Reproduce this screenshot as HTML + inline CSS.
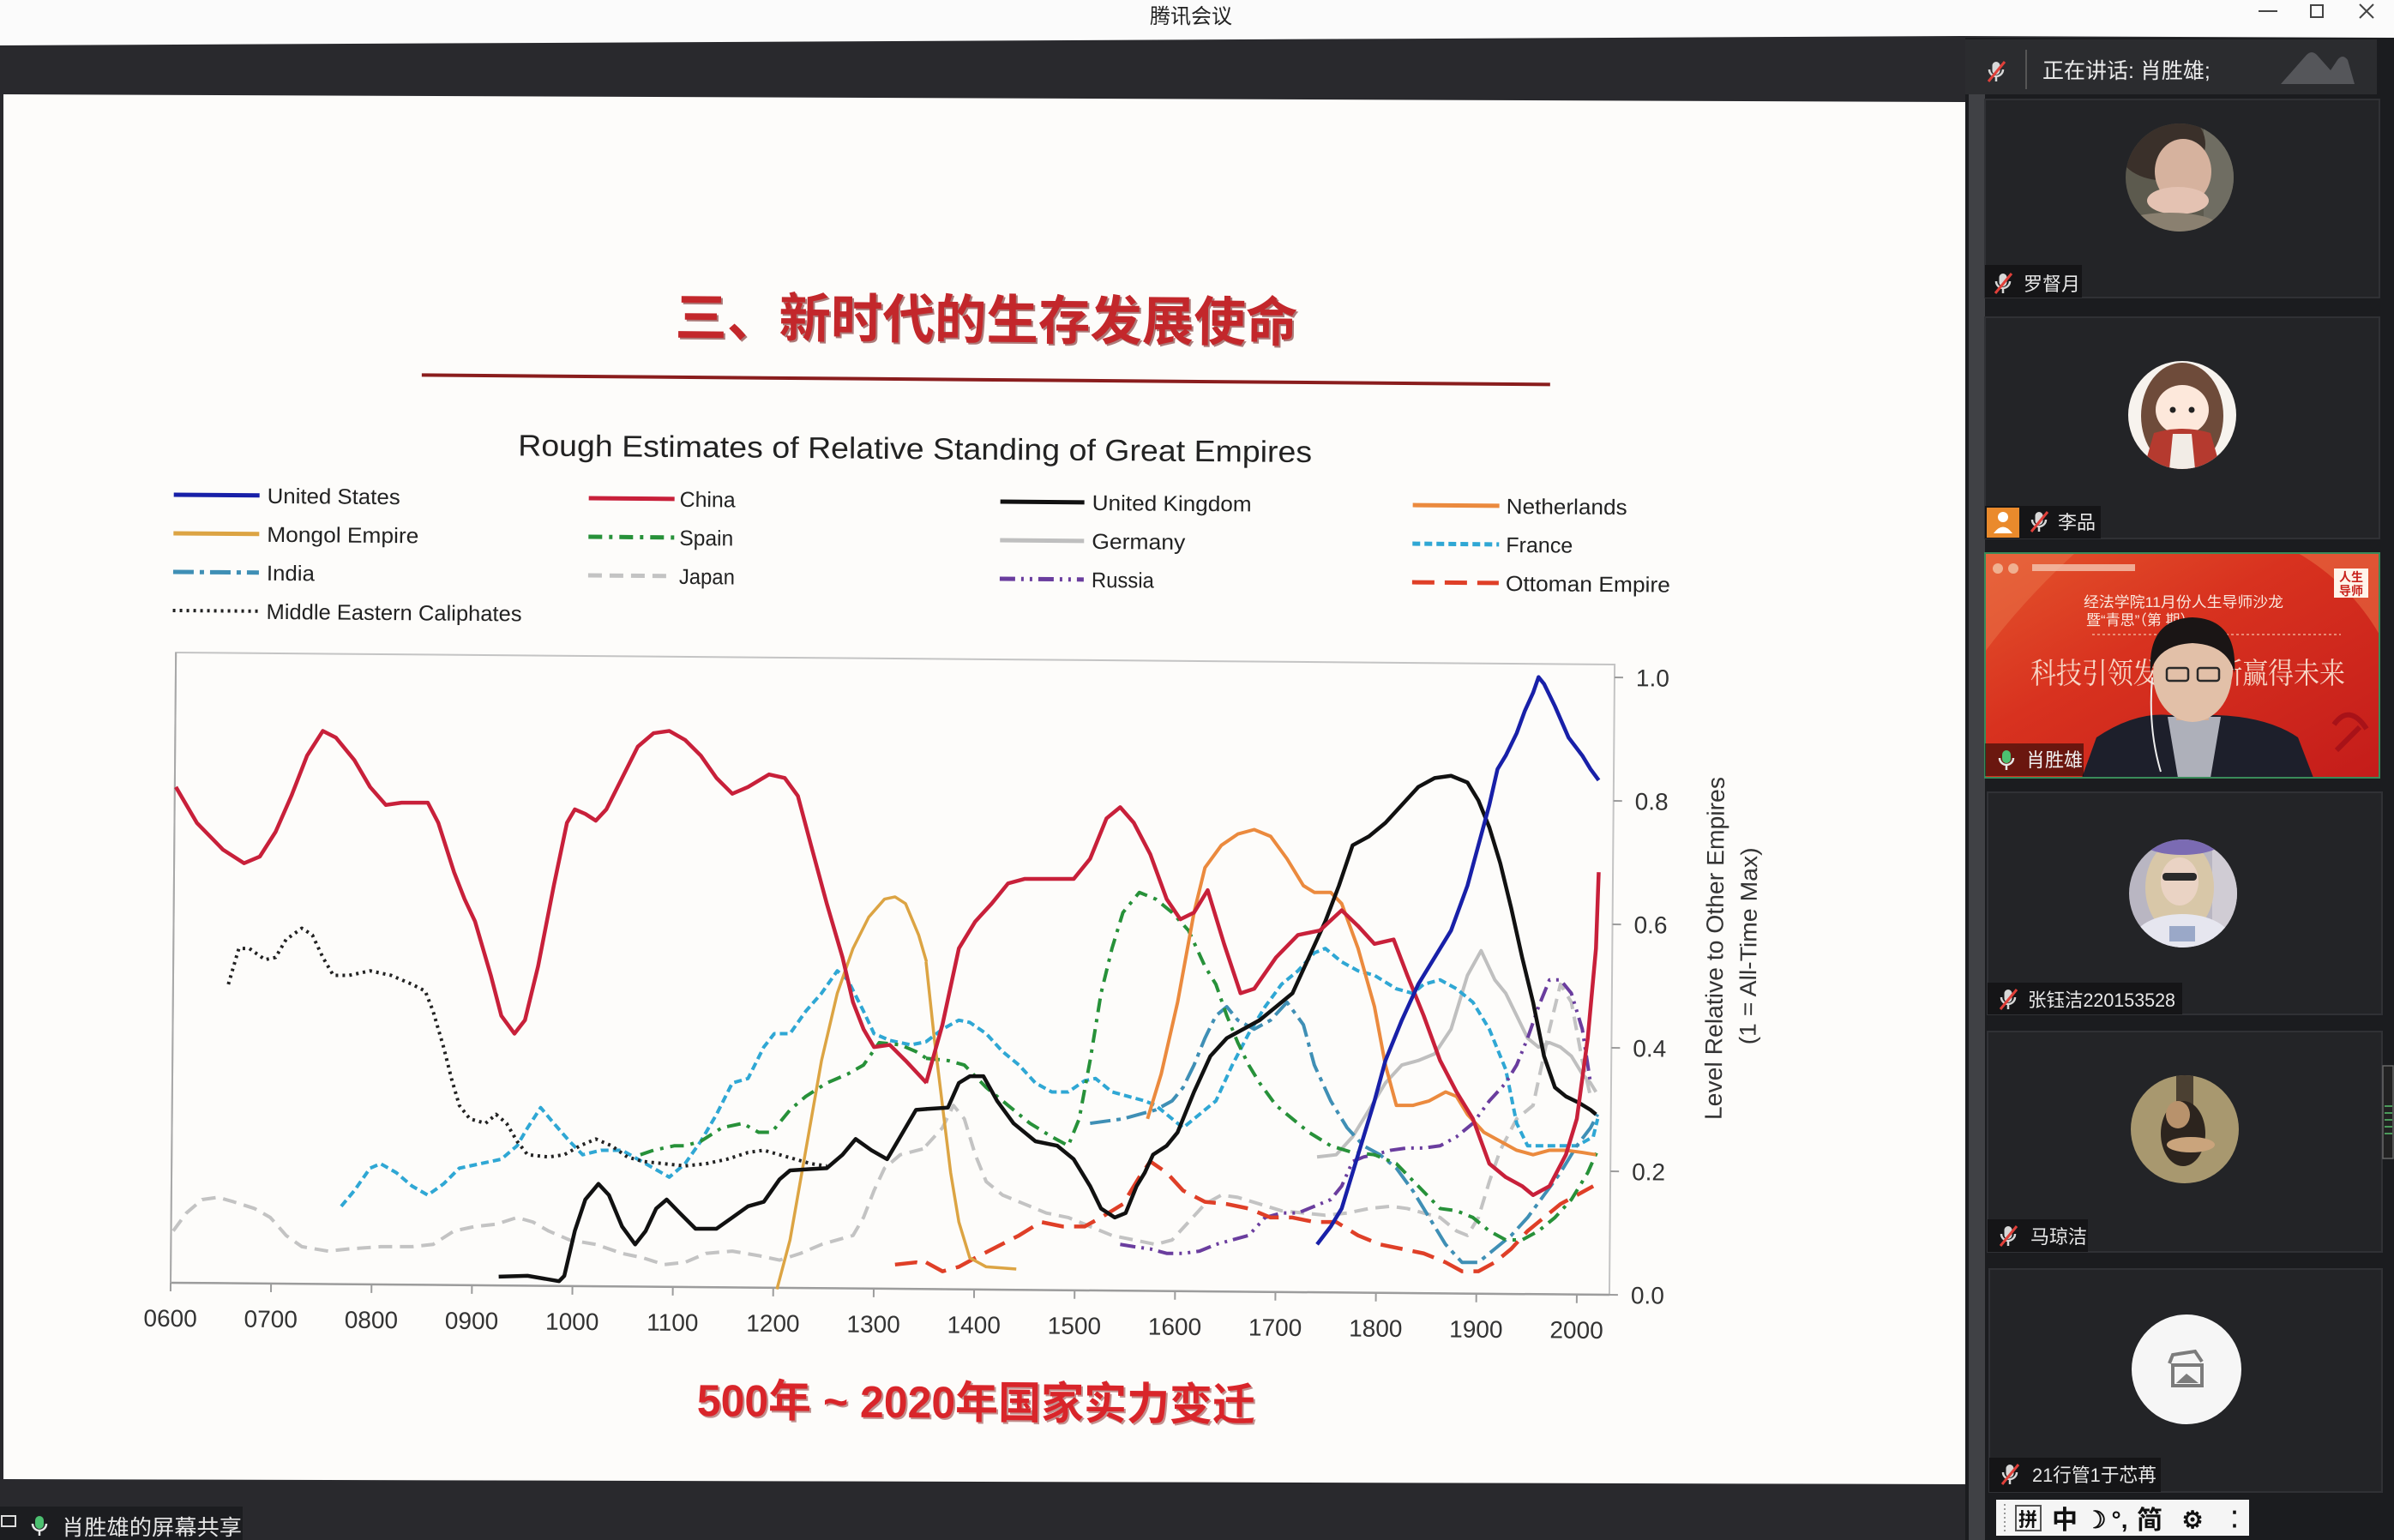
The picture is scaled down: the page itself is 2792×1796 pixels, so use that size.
<!DOCTYPE html>
<html>
<head>
<meta charset="utf-8">
<style>
html,body{margin:0;padding:0;background:#29292d;width:2792px;height:1796px;overflow:hidden}
svg{display:block}
</style>
</head>
<body>
<svg xmlns="http://www.w3.org/2000/svg" width="2792" height="1796" viewBox="0 0 2792 1796" font-family="'Liberation Sans','Noto Sans CJK SC',sans-serif">
<defs>
  <g id="micx">
    <rect x="-4.5" y="-12" width="9" height="15" rx="4.5" fill="#d8d8d8"/>
    <path d="M-8,-3 a8,8 0 0 0 16,0" fill="none" stroke="#d8d8d8" stroke-width="2.5"/>
    <line x1="0" y1="5" x2="0" y2="11" stroke="#d8d8d8" stroke-width="2.5"/>
    <line x1="-9" y1="11" x2="10" y2="-12" stroke="#e0403a" stroke-width="3"/>
  </g>
  <g id="micg">
    <rect x="-5" y="-12" width="10" height="15" rx="5" fill="#4cc070"/>
    <path d="M-8,-3 a8,8 0 0 0 16,0" fill="none" stroke="#e8e8e8" stroke-width="2.5"/>
    <line x1="0" y1="5" x2="0" y2="11" stroke="#e8e8e8" stroke-width="2.5"/>
  </g>
  <clipPath id="c1"><circle cx="2542" cy="207" r="63"/></clipPath>
  <clipPath id="c2"><circle cx="2545" cy="484" r="63"/></clipPath>
  <clipPath id="c4"><circle cx="2546" cy="1042" r="63"/></clipPath>
  <clipPath id="c5"><circle cx="2548" cy="1317" r="63"/></clipPath>
  <clipPath id="ct3"><rect x="2315" y="645" width="460" height="262"/></clipPath>
  <linearGradient id="redg" x1="0" y1="0" x2="1" y2="1">
    <stop offset="0" stop-color="#e4542c"/>
    <stop offset="0.4" stop-color="#d8321f"/>
    <stop offset="1" stop-color="#c41c1a"/>
  </linearGradient>
</defs>

<!-- background -->
<rect x="0" y="0" width="2792" height="1796" fill="#29292d"/>
<!-- title bar -->
<polygon points="0,0 2792,0 2792,44 2290,42 0,53" fill="#fbfbfb"/>
<text x="1389" y="27" font-size="24" fill="#222" text-anchor="middle">腾讯会议</text>
<line x1="2634" y1="13" x2="2656" y2="13" stroke="#444" stroke-width="2"/>
<rect x="2695" y="6" width="14" height="14" fill="none" stroke="#444" stroke-width="2"/>
<path d="M2752,5 L2768,21 M2768,5 L2752,21" stroke="#444" stroke-width="2"/>

<!-- right panel -->
<rect x="2292" y="44" width="500" height="1752" fill="#1b1c1f"/>
<rect x="2296" y="110" width="19" height="1686" fill="#404145"/>
<!-- header -->
<rect x="2292" y="46" width="480" height="64" fill="#2b2c2f"/>
<use href="#micx" x="2328" y="84"/>
<line x1="2363" y1="58" x2="2363" y2="104" stroke="#555" stroke-width="2"/>
<text x="2382" y="91" font-size="25" fill="#ececec">正在讲话: 肖胜雄;</text>
<path d="M2660,98 L2690,64 Q2696,58 2702,64 L2718,82 L2726,70 Q2732,62 2738,70 L2746,98 Z" fill="#55565a"/>

<!-- tile 1 -->
<rect x="2315" y="116" width="460" height="231" fill="#232427" stroke="#303135" stroke-width="2"/>
<g clip-path="url(#c1)">
  <rect x="2479" y="144" width="126" height="126" fill="#5c5a4e"/>
  <rect x="2570" y="144" width="40" height="126" fill="#6f6d62"/>
  <ellipse cx="2520" cy="168" rx="52" ry="42" fill="#3a302a"/>
  <ellipse cx="2546" cy="200" rx="33" ry="38" fill="#d6b29e"/>
  <ellipse cx="2540" cy="234" rx="36" ry="16" fill="#e4c2b2"/>
  <ellipse cx="2530" cy="262" rx="55" ry="14" fill="#8a8070"/>
</g>
<rect x="2315" y="309" width="113" height="38" fill="#151517"/>
<use href="#micx" x="2336" y="331"/>
<text x="2360" y="339" font-size="22" fill="#e8e8e8">罗督月</text>

<!-- tile 2 -->
<rect x="2315" y="370" width="460" height="258" fill="#232427" stroke="#303135" stroke-width="2"/>
<g clip-path="url(#c2)">
  <rect x="2482" y="421" width="126" height="126" fill="#f7f3ee"/>
  <ellipse cx="2545" cy="485" rx="48" ry="62" fill="#6e4b3a"/>
  <ellipse cx="2545" cy="478" rx="31" ry="29" fill="#fde8db"/>
  <circle cx="2534" cy="478" r="3.5" fill="#222"/>
  <circle cx="2556" cy="478" r="3.5" fill="#222"/>
  <path d="M2500,547 L2512,505 Q2545,495 2578,505 L2590,547 Z" fill="#b53a2f"/>
  <path d="M2530,547 L2534,506 L2556,506 L2560,547 Z" fill="#f2ece6"/>
</g>
<rect x="2315" y="590" width="135" height="38" fill="#151517"/>
<rect x="2317" y="592" width="38" height="35" fill="#ea8a2c"/>
<circle cx="2336" cy="603" r="6" fill="#fff"/>
<path d="M2325,622 Q2336,607 2347,622 Z" fill="#fff"/>
<use href="#micx" x="2378" y="609"/>
<text x="2400" y="617" font-size="22" fill="#e8e8e8">李品</text>

<!-- tile 3 video -->
<g clip-path="url(#ct3)">
  <rect x="2315" y="645" width="460" height="262" fill="url(#redg)"/>
  <path d="M2315,645 L2420,645 Q2360,700 2315,760 Z" fill="#e9744a" opacity="0.5"/>
  <path d="M2680,645 L2775,645 L2775,740 Q2740,680 2680,645 Z" fill="#ec7a4a" opacity="0.5"/>
  <circle cx="2330" cy="663" r="6" fill="#f0b090"/>
  <circle cx="2348" cy="663" r="6" fill="#f0b090"/>
  <rect x="2370" y="658" width="120" height="8" fill="#f4c4b0" opacity="0.8"/>
  <rect x="2722" y="663" width="40" height="34" fill="#fff4ea"/>
  <text x="2742" y="678" font-size="14" fill="#c8201a" text-anchor="middle" font-weight="bold">人生</text>
  <text x="2742" y="694" font-size="14" fill="#c8201a" text-anchor="middle" font-weight="bold">导师</text>
  <text x="2430" y="708" font-size="17" fill="#fbe8de" textLength="233" lengthAdjust="spacingAndGlyphs">经法学院11月份人生导师沙龙</text>
  <text x="2433" y="729" font-size="17" fill="#fbe8de">暨“青思”（第   期）</text>
  <line x1="2440" y1="740" x2="2730" y2="740" stroke="#f0a890" stroke-width="1.5" stroke-dasharray="3 3"/>
  <text x="2368" y="797" font-size="34" fill="#f7d6c6" font-family="'Noto Serif CJK SC',serif" textLength="367" lengthAdjust="spacingAndGlyphs">科技引领发展 创新赢得未来</text>
  <path d="M2722,845 Q2740,820 2760,850 M2725,875 L2752,848" stroke="#a81218" stroke-width="6" fill="none"/>
  <!-- man -->
  <path d="M2428,907 L2445,860 Q2490,830 2530,834 L2585,834 Q2645,836 2680,860 L2698,907 Z" fill="#1d1f2b"/>
  <path d="M2528,836 L2590,836 L2578,907 L2540,907 Z" fill="#aeb0ba"/>
  <rect x="2538" y="818" width="38" height="22" fill="#d4ae96"/>
  <ellipse cx="2557" cy="786" rx="46" ry="56" fill="#e2c0a8"/>
  <path d="M2508,785 Q2504,722 2557,720 Q2610,722 2606,785 Q2598,752 2557,750 Q2516,752 2508,785 Z" fill="#1a1515"/>
  <rect x="2527" y="779" width="25" height="15" rx="3" fill="none" stroke="#2a2a2a" stroke-width="2.5"/>
  <rect x="2563" y="779" width="25" height="15" rx="3" fill="none" stroke="#2a2a2a" stroke-width="2.5"/>
  <path d="M2510,790 Q2505,850 2520,900" stroke="#eee" stroke-width="2" fill="none"/>
</g>
<rect x="2315" y="645" width="460" height="262" fill="none" stroke="#3a8a5a" stroke-width="2"/>
<rect x="2315" y="867" width="115" height="38" fill="#000" opacity="0.5"/>
<use href="#micg" x="2340" y="887"/>
<text x="2363" y="894" font-size="22" fill="#f0f0f0">肖胜雄</text>

<!-- tile 4 -->
<rect x="2318" y="924" width="460" height="259" fill="#232427" stroke="#303135" stroke-width="2"/>
<g clip-path="url(#c4)">
  <rect x="2483" y="979" width="126" height="126" fill="#b9b6c2"/>
  <rect x="2580" y="979" width="30" height="126" fill="#d0ccd4"/>
  <ellipse cx="2542" cy="1035" rx="40" ry="55" fill="#d8c7a8"/>
  <ellipse cx="2542" cy="1028" rx="22" ry="28" fill="#ead3c4"/>
  <rect x="2522" y="1018" width="40" height="9" rx="4" fill="#2a2a2a"/>
  <ellipse cx="2545" cy="983" rx="45" ry="14" fill="#7b6bb3"/>
  <ellipse cx="2545" cy="1098" rx="58" ry="32" fill="#e6e6ef"/>
  <rect x="2530" y="1080" width="30" height="18" fill="#9aa8c8"/>
</g>
<rect x="2318" y="1146" width="227" height="37" fill="#151517"/>
<use href="#micx" x="2342" y="1166"/>
<text x="2365" y="1174" font-size="22" fill="#e8e8e8" textLength="172" lengthAdjust="spacingAndGlyphs">张钰洁220153528</text>

<!-- tile 5 -->
<rect x="2318" y="1203" width="460" height="257" fill="#232427" stroke="#303135" stroke-width="2"/>
<g clip-path="url(#c5)">
  <rect x="2485" y="1254" width="126" height="126" fill="#a8986f"/>
  <rect x="2538" y="1254" width="20" height="40" fill="#4b4032"/>
  <ellipse cx="2546" cy="1322" rx="26" ry="38" fill="#2c241e"/>
  <ellipse cx="2540" cy="1300" rx="14" ry="16" fill="#b8926c"/>
  <ellipse cx="2555" cy="1335" rx="28" ry="9" fill="#caa47c"/>
</g>
<rect x="2318" y="1422" width="117" height="38" fill="#151517"/>
<use href="#micx" x="2342" y="1442"/>
<text x="2368" y="1450" font-size="22" fill="#e8e8e8">马琼洁</text>

<!-- tile 6 -->
<rect x="2320" y="1480" width="458" height="260" fill="#232427" stroke="#303135" stroke-width="2"/>
<circle cx="2550" cy="1597" r="64" fill="#f6f6f6"/>
<rect x="2534" y="1592" width="34" height="24" fill="none" stroke="#7c7c7c" stroke-width="4"/>
<path d="M2538,1613 L2550,1602 L2564,1613 Z" fill="#7c7c7c"/>
<path d="M2530,1590 L2534,1580 L2560,1576 L2568,1588" fill="none" stroke="#7c7c7c" stroke-width="4"/>
<rect x="2320" y="1700" width="200" height="40" fill="#151517"/>
<use href="#micx" x="2344" y="1720"/>
<text x="2370" y="1728" font-size="22" fill="#e8e8e8" textLength="145" lengthAdjust="spacingAndGlyphs">21行管1于芯苒</text>

<!-- side handle -->
<rect x="2779" y="1243" width="12" height="108" fill="#222" stroke="#666" stroke-width="1.5"/>
<path d="M2781,1290 H2790 M2781,1298 H2790 M2781,1306 H2790 M2781,1314 H2790 M2781,1322 H2790" stroke="#4a9a5a" stroke-width="2"/>

<!-- IME bar -->
<rect x="2328" y="1749" width="295" height="42" fill="#f5f5f5"/>
<line x1="2338" y1="1754" x2="2338" y2="1786" stroke="#999" stroke-width="2" stroke-dasharray="2 3"/>
<rect x="2351" y="1756" width="29" height="29" fill="none" stroke="#555" stroke-width="2"/>
<text x="2365" y="1780" font-size="22" font-weight="bold" fill="#111" text-anchor="middle">拼</text>
<text x="2408" y="1783" font-size="30" font-weight="bold" fill="#111" text-anchor="middle">中</text>
<text x="2444" y="1782" font-size="28" font-weight="bold" fill="#111" text-anchor="middle">☽</text>
<text x="2472" y="1782" font-size="28" font-weight="bold" fill="#111" text-anchor="middle">°,</text>
<text x="2507" y="1783" font-size="30" font-weight="bold" fill="#111" text-anchor="middle">简</text>
<text x="2557" y="1782" font-size="28" font-weight="bold" fill="#111" text-anchor="middle">⚙</text>
<text x="2606" y="1781" font-size="26" font-weight="bold" fill="#111" text-anchor="middle">⁚</text>

<!-- slide -->
<polygon points="4,110 2292,119 2292,1731 4,1725" fill="#fdfcfa"/>

<!-- bottom-left share label -->
<rect x="0" y="1757" width="283" height="39" fill="#1c1d20"/>
<rect x="2" y="1768" width="16" height="12" fill="none" stroke="#ddd" stroke-width="2"/>
<use href="#micg" x="46" y="1780"/>
<text x="72" y="1790" font-size="25" fill="#e6e6e6" textLength="210" lengthAdjust="spacingAndGlyphs">肖胜雄的屏幕共享</text>

<!-- rotated slide content -->
<g transform="rotate(0.48 204 1496)">
  <text x="780" y="389" font-size="62" font-weight="bold" fill="#6a1010" opacity="0.55" textLength="726" lengthAdjust="spacingAndGlyphs">三、新时代的生存发展使命</text>
  <text x="778" y="387" font-size="62" font-weight="bold" fill="#c3272b" textLength="726" lengthAdjust="spacingAndGlyphs">三、新时代的生存发展使命</text>
  <line x1="483" y1="435" x2="1799" y2="435" stroke="#8a1d1d" stroke-width="4"/>

  <text x="596" y="528" font-size="35" fill="#222" textLength="926" lengthAdjust="spacingAndGlyphs">Rough Estimates of Relative Standing of Great Empires</text>

  <!-- legend -->
  <g font-size="25" fill="#222">
    <line x1="195" y1="577" x2="295" y2="577" stroke="#1820a8" stroke-width="5"/>
    <text x="304" y="586" textLength="155" lengthAdjust="spacingAndGlyphs">United States</text>
    <line x1="195" y1="622" x2="295" y2="622" stroke="#dca443" stroke-width="5"/>
    <text x="304" y="631" textLength="177" lengthAdjust="spacingAndGlyphs">Mongol Empire</text>
    <line x1="195" y1="667" x2="295" y2="667" stroke="#3f8fb5" stroke-width="5" stroke-dasharray="24 7 5 7"/>
    <text x="304" y="676" textLength="56" lengthAdjust="spacingAndGlyphs">India</text>
    <line x1="195" y1="712" x2="295" y2="712" stroke="#222" stroke-width="4" stroke-dasharray="3 5"/>
    <text x="304" y="721" textLength="298" lengthAdjust="spacingAndGlyphs">Middle Eastern Caliphates</text>

    <line x1="679" y1="577" x2="779" y2="577" stroke="#c8203a" stroke-width="5"/>
    <text x="785" y="586" textLength="65" lengthAdjust="spacingAndGlyphs">China</text>
    <line x1="679" y1="622" x2="779" y2="622" stroke="#279139" stroke-width="5" stroke-dasharray="16 8 4 8"/>
    <text x="785" y="631" textLength="63" lengthAdjust="spacingAndGlyphs">Spain</text>
    <line x1="679" y1="667" x2="779" y2="667" stroke="#c3c3c3" stroke-width="5" stroke-dasharray="16 9"/>
    <text x="785" y="676" textLength="65" lengthAdjust="spacingAndGlyphs">Japan</text>

    <line x1="1159" y1="577" x2="1257" y2="577" stroke="#111" stroke-width="5"/>
    <text x="1266" y="586" textLength="186" lengthAdjust="spacingAndGlyphs">United Kingdom</text>
    <line x1="1159" y1="622" x2="1257" y2="622" stroke="#bfbfbf" stroke-width="5"/>
    <text x="1266" y="631" textLength="109" lengthAdjust="spacingAndGlyphs">Germany</text>
    <line x1="1159" y1="667" x2="1257" y2="667" stroke="#6a3d9e" stroke-width="5" stroke-dasharray="18 7 3 7 3 7"/>
    <text x="1266" y="676" textLength="73" lengthAdjust="spacingAndGlyphs">Russia</text>

    <line x1="1640" y1="577" x2="1741" y2="577" stroke="#eb8a3e" stroke-width="5"/>
    <text x="1749" y="586" textLength="141" lengthAdjust="spacingAndGlyphs">Netherlands</text>
    <line x1="1640" y1="622" x2="1741" y2="622" stroke="#2fa7d4" stroke-width="5" stroke-dasharray="9 5"/>
    <text x="1749" y="631" textLength="78" lengthAdjust="spacingAndGlyphs">France</text>
    <line x1="1640" y1="667" x2="1741" y2="667" stroke="#df3f27" stroke-width="5" stroke-dasharray="26 12"/>
    <text x="1749" y="676" textLength="192" lengthAdjust="spacingAndGlyphs">Ottoman Empire</text>
  </g>

  <!-- plot box -->
  <rect x="199" y="761" width="1678" height="735" fill="none" stroke="#c4c4c4" stroke-width="2"/>
  <line x1="199" y1="1496" x2="1877" y2="1496" stroke="#9c9c9c" stroke-width="2.5"/>
  <line x1="199" y1="761" x2="199" y2="1496" stroke="#a8a8a8" stroke-width="2"/>
  <g stroke="#9c9c9c" stroke-width="2">
    <path d="M199,1496v10 M316.1,1496v10 M433.3,1496v10 M550.4,1496v10 M667.6,1496v10 M784.7,1496v10 M901.8,1496v10 M1019,1496v10 M1136.1,1496v10 M1253.3,1496v10 M1370.4,1496v10 M1487.5,1496v10 M1604.7,1496v10 M1721.8,1496v10 M1839,1496v10"/>
    <path d="M1877,776h10 M1877,920h10 M1877,1064h10 M1877,1208h10 M1877,1352h10 M1877,1496h10"/>
  </g>
  <g font-size="28" fill="#333" text-anchor="middle">
    <text x="199" y="1547">0600</text>
    <text x="316.1" y="1547">0700</text>
    <text x="433.3" y="1547">0800</text>
    <text x="550.4" y="1547">0900</text>
    <text x="667.6" y="1547">1000</text>
    <text x="784.7" y="1547">1100</text>
    <text x="901.8" y="1547">1200</text>
    <text x="1019" y="1547">1300</text>
    <text x="1136.1" y="1547">1400</text>
    <text x="1253.3" y="1547">1500</text>
    <text x="1370.4" y="1547">1600</text>
    <text x="1487.5" y="1547">1700</text>
    <text x="1604.7" y="1547">1800</text>
    <text x="1721.8" y="1547">1900</text>
    <text x="1839" y="1547">2000</text>
  </g>
  <g font-size="28" fill="#333">
    <text x="1902" y="786">1.0</text>
    <text x="1902" y="930">0.8</text>
    <text x="1902" y="1074">0.6</text>
    <text x="1902" y="1218">0.4</text>
    <text x="1902" y="1362">0.2</text>
    <text x="1902" y="1506">0.0</text>
  </g>
  <text transform="translate(2006,1091) rotate(-90)" x="0" y="0" font-size="28" fill="#333" text-anchor="middle" textLength="400" lengthAdjust="spacingAndGlyphs">Level Relative to Other Empires</text>
  <text transform="translate(2045,1088) rotate(-90)" x="0" y="0" font-size="27" fill="#333" text-anchor="middle" textLength="230" lengthAdjust="spacingAndGlyphs">(1 = All-Time Max)</text>

  <text x="816" y="1648" font-size="52" font-weight="bold" fill="#7a1010" opacity="0.45" textLength="651" lengthAdjust="spacingAndGlyphs">500年 ~ 2020年国家实力变迁</text>
  <text x="814" y="1646" font-size="52" font-weight="bold" fill="#d9252a" textLength="651" lengthAdjust="spacingAndGlyphs">500年 ~ 2020年国家实力变迁</text>
</g>

<!-- series, left part -->
<g transform="translate(150,740) scale(0.6122,0.523)" fill="none" stroke-linejoin="round" stroke-linecap="butt">
  <path vector-effect="non-scaling-stroke" stroke="#c3c3c3" stroke-width="4" stroke-dasharray="16 9" d="M85,1330 L110,1290 140,1260 170,1255 200,1265 240,1280 270,1300 300,1340 330,1365 380,1375 420,1370 480,1365 540,1365 580,1360 620,1330 660,1320 700,1315 740,1300 770,1310 800,1330 840,1350 890,1360 940,1380 980,1390 1020,1405 1060,1400 1100,1380 1150,1375 1200,1385 1240,1395 1280,1380 1320,1360 1380,1340 1400,1300 1420,1240 1440,1190 1470,1160 1520,1145"/>
  <path vector-effect="non-scaling-stroke" stroke="#2fa7d4" stroke-width="4" stroke-dasharray="9 5" d="M405,1275 L430,1240 460,1190 480,1180 510,1200 540,1230 570,1250 600,1225 630,1190 670,1180 710,1170 740,1140 760,1100 785,1055 810,1090 840,1130 865,1160 900,1150 940,1150 970,1170 1000,1190 1030,1210 1060,1180 1090,1130 1120,1070 1150,1000 1180,990 1210,920 1230,890 1260,890 1290,840 1320,800 1350,750 1370,770 1400,840 1420,890 1450,905 1490,915 1520,908"/>
  <path vector-effect="non-scaling-stroke" stroke="#df3f27" stroke-width="4.5" stroke-dasharray="26 12" d="M1460,1405 L1500,1400 1520,1405"/>
  <path vector-effect="non-scaling-stroke" stroke="#279139" stroke-width="4" stroke-dasharray="16 8 4 8" d="M975,1160 L1000,1150 1040,1140 1060,1140 1090,1130 1130,1100 1170,1090 1200,1110 1225,1110 1260,1060 1290,1030 1330,1000 1370,980 1400,960 1430,910 1470,915 1500,930 1520,945"/>
  <path vector-effect="non-scaling-stroke" stroke="#222" stroke-width="4" stroke-dasharray="3 5" d="M190,780 L200,740 210,700 230,700 260,725 280,720 300,680 330,655 350,670 370,720 390,760 420,760 460,750 500,760 540,780 565,795 580,840 600,920 615,990 630,1050 650,1080 680,1090 700,1070 720,1090 740,1130 760,1160 800,1165 830,1160 860,1140 890,1125 920,1140 950,1165 980,1175 1020,1180 1060,1185 1100,1180 1140,1170 1180,1155 1210,1150 1240,1160 1270,1170 1300,1180 1330,1185"/>
  <path vector-effect="non-scaling-stroke" stroke="#dca443" stroke-width="3.5" d="M1235,1460 L1260,1350 1290,1150 1320,950 1350,800 1380,700 1410,630 1440,590 1460,585 1480,600 1505,670 1520,730"/>
  <path vector-effect="non-scaling-stroke" stroke="#111" stroke-width="4.5" d="M705,1432 L760,1430 820,1442 830,1430 850,1330 870,1260 895,1225 915,1250 940,1320 965,1360 985,1330 1005,1280 1025,1260 1050,1290 1080,1325 1120,1325 1150,1300 1180,1275 1210,1265 1240,1215 1260,1195 1300,1192 1330,1190 1360,1160 1385,1125 1415,1150 1445,1170 1470,1120 1500,1060 1520,1058"/>
  <path vector-effect="non-scaling-stroke" stroke="#c8203a" stroke-width="4.5" d="M90,340 L130,420 180,480 220,510 250,495 280,440 310,360 340,270 370,215 395,230 430,280 460,340 490,380 520,375 570,375 590,420 620,530 640,590 660,640 690,760 710,850 735,890 755,860 780,740 810,560 835,420 850,390 870,400 890,415 910,390 940,320 970,250 1000,220 1030,215 1060,235 1090,270 1120,320 1150,355 1180,340 1220,312 1250,320 1275,360 1300,470 1330,600 1360,720 1380,820 1400,880 1420,920 1450,915 1480,950 1520,1000"/>
</g>

<!-- series, right part -->
<g transform="translate(1080,740) scale(0.6378,0.523)" fill="none" stroke-linejoin="round" stroke-linecap="butt">
  <path vector-effect="non-scaling-stroke" stroke="#c3c3c3" stroke-width="4" stroke-dasharray="16 9" d="M0,1140 L30,1100 50,1050 70,1080 90,1160 110,1220 140,1250 180,1270 220,1290 260,1300 300,1320 340,1340 380,1350 420,1360 450,1350 480,1310 510,1270 540,1250 570,1255 610,1270 650,1285 690,1290 730,1295 770,1290 810,1280 850,1275 880,1280 910,1290 940,1300 970,1330 990,1340 1010,1300 1030,1220 1050,1150 1080,1080 1110,1050 1140,880 1160,780 1180,820 1200,950 1215,1030"/>
  <path vector-effect="non-scaling-stroke" stroke="#bfbfbf" stroke-width="4" d="M715,1165 L750,1160 780,1120 810,1060 840,1000 870,960 900,950 930,935 960,880 990,760 1015,705 1040,770 1060,800 1080,850 1100,900 1120,920 1140,910 1160,920 1180,940 1200,980 1215,1000 1225,1020"/>
  <path vector-effect="non-scaling-stroke" stroke="#2fa7d4" stroke-width="4" stroke-dasharray="9 5" d="M0,908 L30,880 60,860 80,865 110,890 140,930 170,960 200,1000 230,1020 260,1020 290,995 310,990 340,1020 370,1030 400,1040 420,1050 450,1080 470,1100 500,1070 530,1040 560,960 590,890 620,830 650,780 680,750 710,710 730,700 760,730 790,750 820,760 860,790 890,800 910,780 940,770 970,790 1000,820 1030,880 1060,970 1080,1090 1100,1140 1130,1140 1160,1140 1190,1140 1220,1120 1228,1080"/>
  <path vector-effect="non-scaling-stroke" stroke="#3f8fb5" stroke-width="4" stroke-dasharray="24 7 5 7" d="M300,1090 L330,1085 360,1080 390,1070 420,1060 450,1040 470,1010 490,960 510,900 530,850 550,830 570,860 600,880 630,860 660,820 690,870 710,960 740,1040 770,1100 800,1140 830,1160 860,1190 890,1240 920,1300 950,1360 980,1400 1010,1400 1040,1370 1070,1340 1100,1300 1130,1250 1160,1200 1190,1140 1215,1100 1228,1070"/>
  <path vector-effect="non-scaling-stroke" stroke="#6a3d9e" stroke-width="4" stroke-dasharray="18 7 3 7 3 7" d="M355,1360 L380,1365 410,1370 440,1380 470,1380 500,1375 530,1360 560,1350 590,1340 620,1300 650,1290 680,1290 700,1280 720,1270 740,1260 760,1230 780,1175 800,1165 820,1160 850,1150 880,1145 910,1145 940,1140 970,1120 1000,1090 1030,1040 1060,1000 1080,960 1100,900 1120,830 1140,770 1160,770 1180,800 1200,880 1215,1000"/>
  <path vector-effect="non-scaling-stroke" stroke="#df3f27" stroke-width="4.5" stroke-dasharray="26 12" d="M0,1400 L30,1420 60,1410 90,1390 130,1365 170,1340 210,1310 250,1320 290,1320 320,1300 360,1270 390,1210 410,1175 440,1200 470,1240 510,1265 550,1270 590,1280 630,1300 670,1300 710,1310 750,1310 790,1340 830,1360 870,1370 910,1380 950,1400 980,1420 1010,1420 1040,1400 1070,1370 1100,1330 1130,1300 1160,1270 1190,1250 1220,1230"/>
  <path vector-effect="non-scaling-stroke" stroke="#279139" stroke-width="4" stroke-dasharray="16 8 4 8" d="M0,945 L40,950 70,960 110,1010 150,1050 190,1090 230,1120 260,1140 280,1080 300,950 320,800 340,700 360,620 390,575 420,590 450,620 480,660 510,740 530,780 550,850 570,910 590,960 610,1000 640,1050 670,1080 700,1110 740,1140 780,1155 820,1160 860,1180 900,1230 940,1280 970,1285 1000,1300 1030,1330 1060,1350 1090,1350 1120,1330 1150,1300 1180,1260 1210,1200 1228,1150"/>
  <path vector-effect="non-scaling-stroke" stroke="#dca443" stroke-width="3.5" d="M0,730 L15,900 30,1050 45,1200 60,1310 80,1390 110,1410 165,1415"/>
  <path vector-effect="non-scaling-stroke" stroke="#eb8a3e" stroke-width="4" d="M405,1080 L430,980 460,820 490,620 510,520 540,470 570,445 600,435 630,450 660,500 690,560 710,575 740,575 760,600 790,700 820,830 840,960 860,1050 890,1050 920,1040 950,1020 970,1030 990,1070 1020,1110 1050,1130 1080,1150 1110,1160 1140,1150 1170,1150 1200,1155 1225,1160"/>
  <path vector-effect="non-scaling-stroke" stroke="#111" stroke-width="4.5" d="M0,1058 L40,1055 60,1000 80,985 105,985 130,1040 160,1090 200,1130 240,1140 270,1170 300,1230 320,1280 345,1300 365,1290 385,1230 400,1200 415,1160 440,1140 460,1110 490,1020 520,940 550,900 580,880 610,860 640,830 670,800 700,720 730,640 755,560 780,470 810,450 840,420 870,380 900,340 930,320 960,315 990,330 1010,370 1030,430 1050,510 1070,610 1090,720 1110,820 1130,940 1150,1010 1170,1030 1195,1045 1215,1060 1225,1070"/>
  <path vector-effect="non-scaling-stroke" stroke="#c8203a" stroke-width="4.5" d="M0,1000 L30,870 60,700 90,640 120,600 150,555 180,545 220,545 270,545 300,500 330,410 355,385 380,420 410,490 440,590 465,635 490,620 515,570 545,690 575,800 600,790 640,720 680,670 720,660 760,615 790,650 820,690 855,680 880,760 910,850 940,950 970,1020 1000,1080 1030,1180 1060,1210 1090,1230 1110,1250 1140,1230 1170,1160 1190,1080 1210,900 1225,700 1230,530"/>
  <path vector-effect="non-scaling-stroke" stroke="#1820a8" stroke-width="4.5" d="M715,1360 L740,1320 760,1280 780,1200 800,1120 820,1040 840,950 870,860 900,780 930,720 960,660 990,560 1010,470 1030,380 1045,300 1060,270 1080,220 1095,170 1110,130 1120,95 1130,110 1150,160 1175,230 1200,270 1215,300 1230,325"/>
</g>
</svg>
</body>
</html>
